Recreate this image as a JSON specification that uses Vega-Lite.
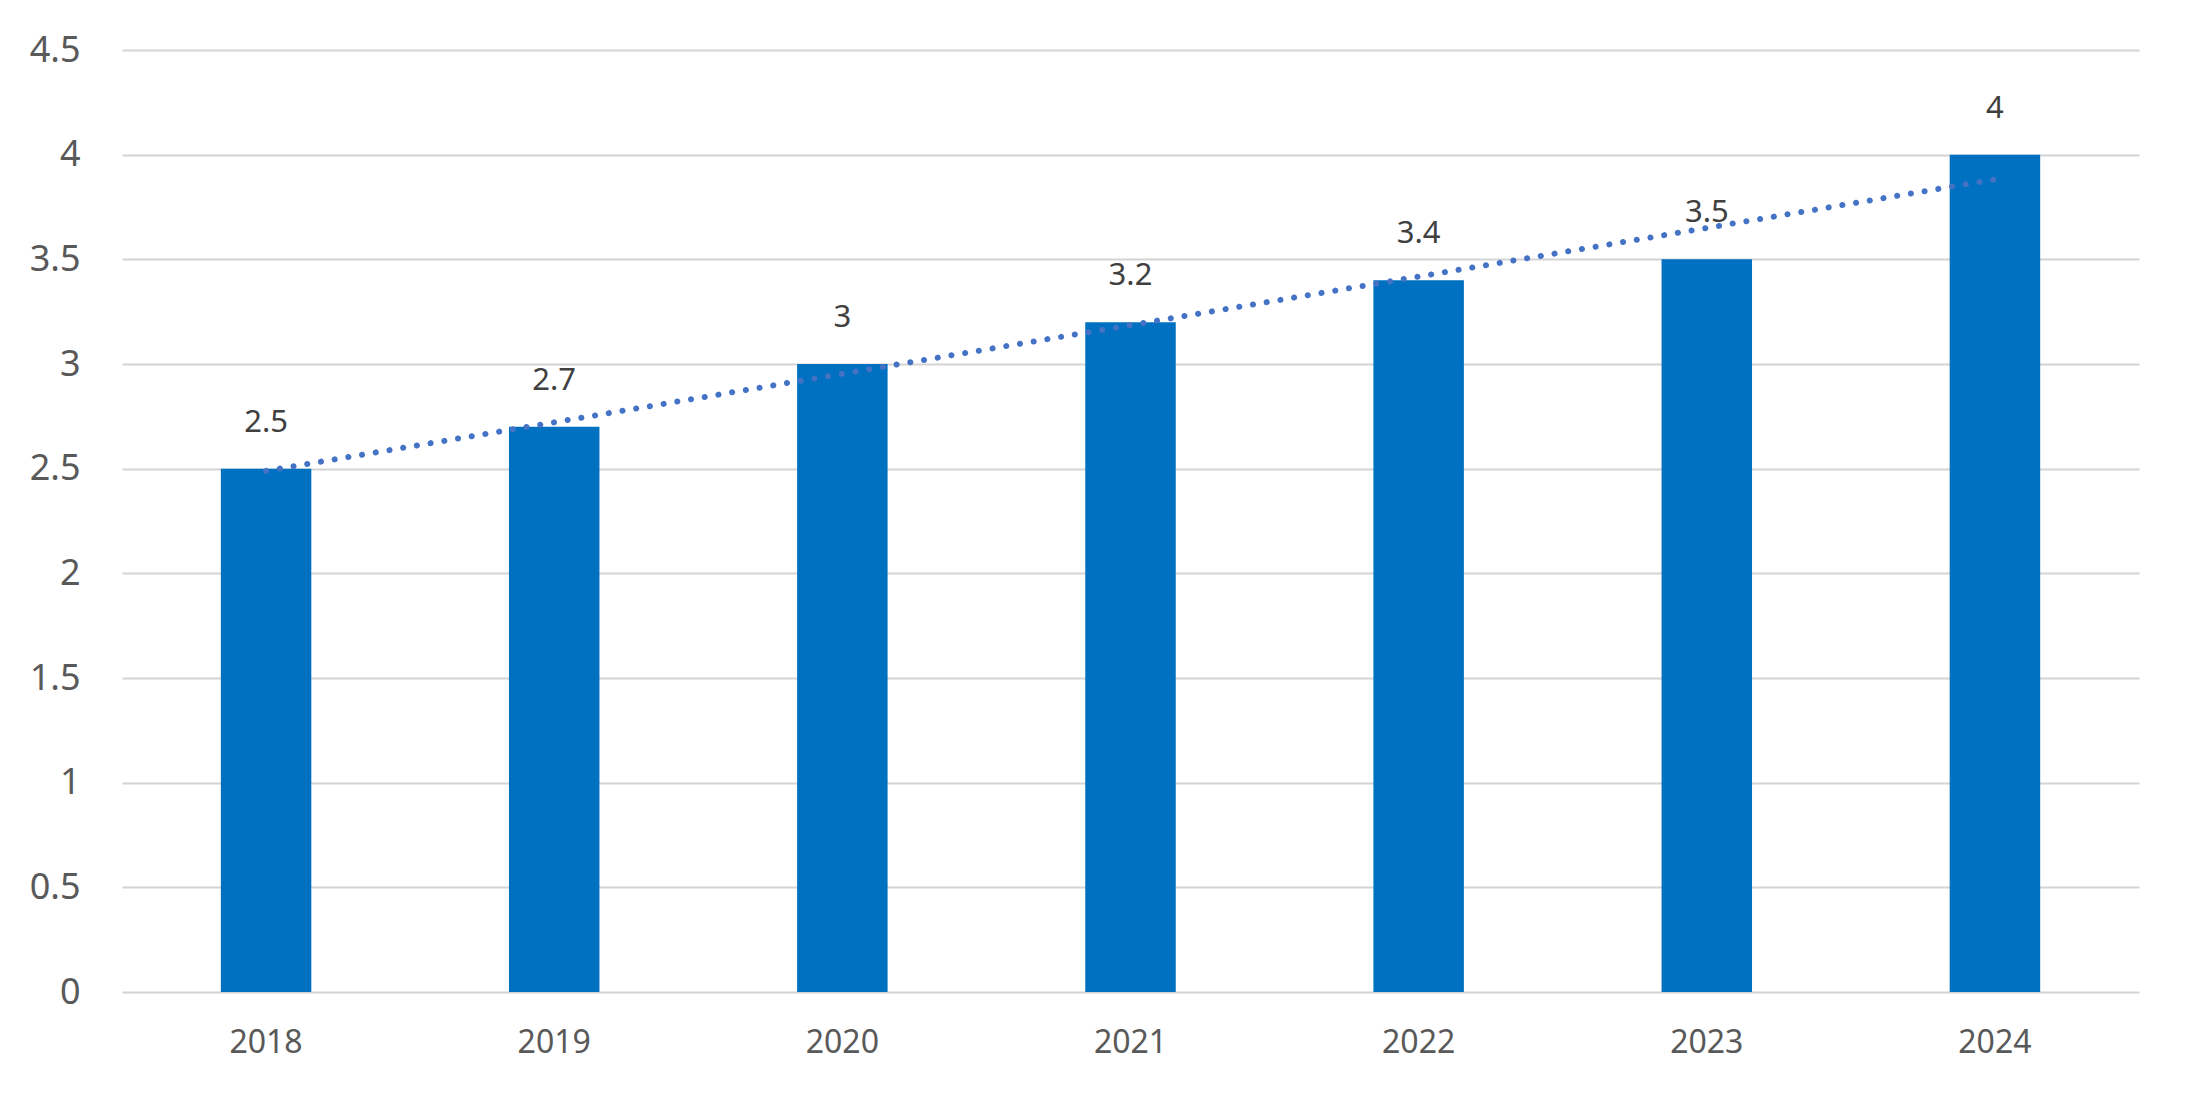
{
  "$schema": "https://vega.github.io/schema/vega-lite/v6.json",
  "width": 2017,
  "height": 942,
  "autosize": {"type": "none"},
  "padding": {"left": 122, "top": 50, "right": 51, "bottom": 101},
  "background": "white",
  "data": {
    "values": [
      {"year": 2018, "value": 2.5},
      {"year": 2019, "value": 2.7},
      {"year": 2020, "value": 3.0},
      {"year": 2021, "value": 3.2},
      {"year": 2022, "value": 3.4},
      {"year": 2023, "value": 3.5},
      {"year": 2024, "value": 4.0}
    ]
  },
  "encoding": {
    "x": {
      "field": "year",
      "type": "ordinal",
      "title": null,
      "scale": {"paddingInner": 0.686, "paddingOuter": 0.343},
      "axis": {
        "domain": false,
        "ticks": false,
        "labelAngle": 0,
        "labelPadding": 35,
        "labelFont": "Noto Sans",
        "labelFontSize": 32,
        "labelColor": "#595959"
      }
    },
    "y": {
      "field": "value",
      "type": "quantitative",
      "title": null,
      "scale": {"domain": [0, 4.5], "nice": false, "zero": true},
      "axis": {
        "values": [0, 0.5, 1, 1.5, 2, 2.5, 3, 3.5, 4, 4.5],
        "format": "~g",
        "domain": false,
        "ticks": false,
        "labelPadding": 42,
        "labelFont": "Noto Sans",
        "labelFontSize": 36,
        "labelColor": "#595959",
        "grid": true,
        "gridColor": "#D4D4D4",
        "gridWidth": 2
      }
    }
  },
  "layer": [
    {
      "mark": {"type": "bar", "color": "#0070C0"}
    },
    {
      "mark": {
        "type": "text",
        "dy": -37,
        "baseline": "alphabetic",
        "align": "center",
        "font": "Noto Sans",
        "fontSize": 31,
        "color": "#404040"
      },
      "encoding": {"text": {"field": "value", "type": "quantitative", "format": "~g"}}
    },
    {
      "transform": [{"regression": "value", "on": "year"}],
      "mark": {
        "type": "line",
        "color": "#4472C4",
        "strokeWidth": 6,
        "strokeCap": "round",
        "strokeDash": [0.1, 13.8]
      }
    }
  ],
  "config": {"view": {"stroke": null}}
}
